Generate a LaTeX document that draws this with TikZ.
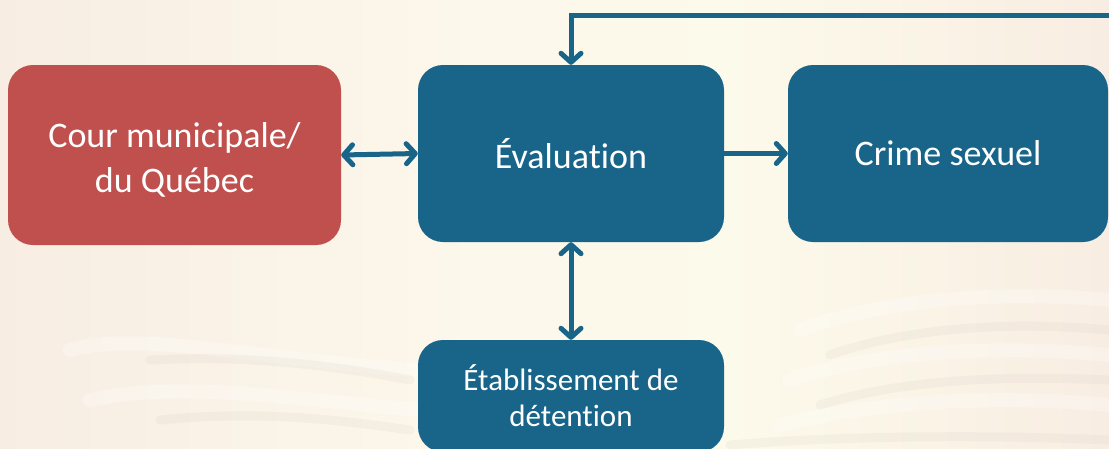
\documentclass[tikz,border=0pt]{standalone}
\usepackage{fontspec}
\setmainfont{Carlito}[Ligatures=NoCommon]
\usetikzlibrary{arrows.meta}
\definecolor{bluebox}{RGB}{24,101,137}
\definecolor{redbox}{RGB}{192,80,77}
\definecolor{pagegrey}{RGB}{200,190,180}
\pgfdeclarehorizontalshading{bgshade}{100bp}{%
  rgb(0bp)=(0.93,0.88,0.85);
  rgb(25bp)=(0.97,0.93,0.89);
  rgb(45bp)=(0.99,0.97,0.92);
  rgb(58bp)=(0.99,0.98,0.92);
  rgb(78bp)=(0.97,0.92,0.88);
  rgb(100bp)=(0.94,0.88,0.85)}
\begin{document}
\begin{tikzpicture}[x=1pt,y=-1pt,
  box/.style={rectangle,rounded corners=25pt,fill=bluebox,text=white,
    align=center,inner sep=0pt},
  boxtext/.style={text=white,align=center,inner sep=0pt},
  conn/.style={draw=bluebox,line width=5pt,
    arrows={-Straight Barb[length=9pt,width=20pt,line cap=round,line join=round]}},
  dconn/.style={conn,arrows={Straight Barb[length=9pt,width=20pt,line cap=round,line join=round]-Straight Barb[length=9pt,width=20pt,line cap=round,line join=round]}},
  page/.style={line width=14pt,line cap=round,draw=white,opacity=0.3},
  shadow/.style={line width=9pt,line cap=round,draw=pagegrey,opacity=0.12}]
\useasboundingbox (0,0) rectangle (1109,448);
\clip (0,0) rectangle (1109,448);
\shade[shading=bgshade] (0,0) rectangle (1109,448);
% blurred book pages
\draw[page] (70,350) .. controls (140,330) and (260,360) .. (420,370);
\draw[page] (90,400) .. controls (180,380) and (300,400) .. (420,410);
\draw[shadow] (150,360) .. controls (250,355) and (330,365) .. (410,380);
\draw[shadow] (160,420) .. controls (260,410) and (340,420) .. (410,430);
\draw[page] (800,330) .. controls (880,300) and (1000,290) .. (1109,300);
\draw[page] (790,380) .. controls (880,350) and (1000,345) .. (1109,355);
\draw[page] (780,425) .. controls (880,400) and (1000,395) .. (1109,405);
\draw[shadow] (830,355) .. controls (900,330) and (1000,320) .. (1109,330);
\draw[shadow] (820,405) .. controls (900,380) and (1000,375) .. (1109,380);
\draw[shadow] (730,445) .. controls (850,435) and (1000,435) .. (1109,440);
\node[box,fill=redbox,minimum width=333pt,minimum height=180pt] (cour) at (174.5,155) {};
\node[boxtext,font=\fontsize{36}{45}\selectfont] (courtext) at ([yshift=-5pt]cour.center)
  {Cour municipale/\\du Québec};
\node[box,minimum width=306pt,minimum height=177pt,font=\fontsize{36}{45}\selectfont]
  (eval) at (571,153.5) {Évaluation};
\node[box,minimum width=320pt,minimum height=177pt,font=\fontsize{36}{45}\selectfont]
  (crime) at (948,153.5) {Crime sexuel};
\node[box,minimum width=306pt,minimum height=112pt,font=\fontsize{31}{36}\selectfont]
  (etab) at (571,396) {Établissement de\\détention};
\coordinate (topright) at (1115,15);
\draw[dconn] (cour.east) -- (eval.west);
\draw[conn] (eval.east) -- (crime.west);
\draw[dconn] (eval.south) -- (etab.north);
\draw[conn,line join=miter] (topright) -| (eval.north);
\end{tikzpicture}
\end{document}
